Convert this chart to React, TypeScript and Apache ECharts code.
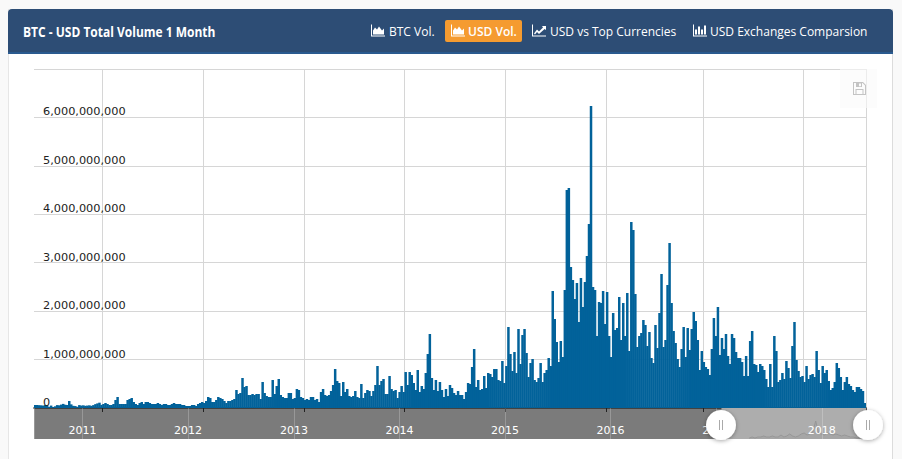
import React, { useEffect, useRef } from "react";
import * as echarts from "echarts";

// Weekly volume in millions of USD.
const volume2010 = [62,62,58,55,50,60,60,25,50,20,35,60,55,70,85,65,62,145,75,45,40,25,60,50,55,45,50,55,45,60,80,95,110,65];
const volume2011 = [83,103,83,62,62,83,165,227,83,83,83,83,165,186,207,124,83,62,103,124,83,124,124,103,83,83,83,103,83,62,83,83,62,62,83,103,83,83,83,62,62,41,41,41,62,62,41,83,103,124];
const volume2012 = [103,145,227,207,124,124,165,227,207,186,145,103,145,145,165,186,372,289,310,620,434,454,268,268,289,268,289,289,186,537,310,248,227,227,578,289,454,599,268,227,207,207,310,310,186,207,392,372,227,207];
const volume2013a = [165,186,165,227,227,165,186,124,330,392,268,248,268,351,475,805,558,516];
const volume2013b = [248,537,330,392,248,227,248,351,227,207,496,207,310,372,351,248,351,475,867,475,558,599,289,289,661,392,351,372,207,330,454,330,743,475,743,681,516,372,785,330,454,392,723,1115,1528,620,372,578,351,537,372,227,392,248,475,413,310,268,351,268,268,186,330,516,496,847,1218,434,578,372,392,661,413,723,702,640,805,805,578,558];
const volume2015 = [971,516,867,1673,1115,764,1156,723,1631,909,1507,1631,1136,640,929,1012,578,537,620,929,537,723,785,1033,867,2416,1838,1363,950,1384,1053,2437,4502,4543,2912,2643,2251,2581,1776,2685,2086,2602,3139,3800,6236,2499,2437,1487,2189,2168,2416,1735,2395,1487,1053,1962,1611,1652,2292,1404,2168,1487,2375,1177,3841,3676,2354,1260,1487,1549,1817,1714,1280,1569,1033,929,1714,1239,1962,2767,1260,1404,2540,3407,2168,1590,1342,1012,847,1218,1673,1053,1652,1198,1631,1982,1797,1404,785,1177,1053].slice(0, 100);
const volume2017 = [950,847,805,681,1218,1858,1487,2086,1094,1446,1218,1528,1074,909,1528,1446,1156,1033,1033,950,661,1074,661,1384,1590,909,888,743,909,867,785,599,434,909,434,1487,1177,537,578,723,599,971,826,620,1280,1776,991,764,640,661,537,867,599,681,702,640,1177,785,516,867,723,785,558,372,413,537,929,826,640,372,537,640,496,454,372,330,434,434,392,351,103];
const volumeMillions = [...volume2010, ...volume2011, ...volume2012, ...volume2013a, ...volume2013b, ...volume2015, ...volume2017];

const categories = volumeMillions.map((_, i) => `W${i + 1}`);
const splitIndices = [34, 84, 134, 184, 234, 284, 332, 382];
const sliderTrace = [1,2,1,2,2,3,2,2,3,2,2,4,2,3,5,3,2,3,5,6,4,5,7,18,6,5,4,6,5,4,5,4,3,4,3,2,2,1,1,0];
const traceStart = Date.UTC(2017, 3, 25);
const DAY = 86400000;
const rangeStart = Date.UTC(2010, 6, 17);
const rangeEnd = Date.UTC(2018, 5, 3);
const selectionStart = Date.UTC(2017, 0, 19);

const title = "BTC - USD Total Volume 1 Month";
const buttons = ["BTC Vol.", "USD Vol.", "USD vs Top Currencies", "USD Exchanges Comparsion"];

const BLUE = "#02629a";
const HEADER = "#2d4d75";

echarts.graphic.registerShape("iconArea", echarts.graphic.extendPath("M0 0V12H14V11H1V0Z M2 10V6L4 3L6 5L8 2L11 6L13 4V10Z", {}));
echarts.graphic.registerShape("iconLine", echarts.graphic.extendPath("M0 0V12H14V11H1V0Z M2 9L5 5L7 7L11 3L10 1.5H14V5.5L12.6 4.4L7 9.4L5 7.4L3 10Z", {}));
echarts.graphic.registerShape("iconBar", echarts.graphic.extendPath("M0 0V12H14V11H1V0Z M2 5H4V10H2Z M5 2H7V10H5Z M8 5H10V10H8Z M11 1H13V10H11Z", {}));
echarts.graphic.registerShape("iconSave", echarts.graphic.extendPath("M0 0H10L13 3V13H0Z M1 1V12H12V3.5L9.5 1H9V5H3V1Z M6 1.5V4.2H8V1.5Z M2.5 7H10.5V12H9.5V8H3.5V12H2.5Z", {}));

const headerText = (text: string, x: number, bold = false) => ({
  type: "text",
  x,
  y: 31,
  z: 20,
  style: { text, fill: "#fff", font: `${bold ? "600 " : ""}12px "Open Sans"`, verticalAlign: "middle", align: "left" },
});
const icon = (type: string, x: number) => ({ type, x, y: 24.5, z: 20, style: { fill: "#fff" } });
const handle = (cx: number) => ({
  type: "group",
  z: 30,
  children: [
    { type: "circle", z: 30, shape: { cx, cy: 425, r: 15 }, style: { fill: "#fff", shadowBlur: 4, shadowColor: "rgba(0,0,0,0.35)", shadowOffsetY: 1 } },
    { type: "line", z: 31, shape: { x1: cx - 1.5, y1: 420, x2: cx - 1.5, y2: 430 }, style: { stroke: "#aaa", lineWidth: 1 } },
    { type: "line", z: 31, shape: { x1: cx + 1.5, y1: 420, x2: cx + 1.5, y2: 430 }, style: { stroke: "#aaa", lineWidth: 1 } },
  ],
});

export default function App() {
  const ref = useRef<HTMLDivElement>(null);
  useEffect(() => {
    const chart = echarts.init(ref.current!, undefined, { renderer: "svg" });
    const hitsSplit = (i: number) => splitIndices.includes(i);
    chart.setOption({
      animation: false,
      backgroundColor: "transparent",
      grid: [
        { left: 34, top: 69, width: 832, height: 339, outerBoundsMode: "none" },
        { left: 34, top: 408, width: 832, height: 31, show: true, backgroundColor: "#7b7b7b", borderWidth: 0, outerBoundsMode: "none" },
      ],
      xAxis: [
        {
          type: "category",
          gridIndex: 0,
          data: categories,
          axisLine: { lineStyle: { color: "#111", width: 1.5 } },
          axisTick: { show: true, length: 4, interval: hitsSplit, lineStyle: { color: "#222" } },
          axisLabel: { show: false },
          splitLine: { show: true, interval: hitsSplit, lineStyle: { color: "#d6d6d6" } },
        },
        {
          type: "time",
          gridIndex: 1,
          min: rangeStart,
          max: rangeEnd,
          z: 5,
          splitNumber: 8,
          minInterval: 365 * DAY,
          axisLine: { show: false },
          axisTick: { show: false },
          axisLabel: {
            inside: true,
            margin: 3,
            color: "#fff",
            fontFamily: "DejaVu Sans",
            fontSize: 11,
            hideOverlap: false,
            formatter: (v: number) => {
              const d = new Date(v);
              return d.getUTCMonth() === 0 && d.getUTCDate() <= 2 ? String(d.getUTCFullYear()) : "";
            },
          },
          splitLine: { show: true, lineStyle: { color: "rgba(255,255,255,0.22)" } },
        },
      ],
      yAxis: [
        {
          type: "value",
          gridIndex: 0,
          min: 0,
          max: 7000000000,
          interval: 1000000000,
          axisLine: { show: false },
          axisTick: { show: false },
          axisLabel: { show: false },
          splitLine: { show: true, lineStyle: { color: "#d6d6d6" } },
        },
        {
          type: "value",
          gridIndex: 0,
          position: "left",
          min: 0,
          max: 7000000000,
          interval: 1000000000,
          z: 6,
          axisLine: { show: false },
          axisTick: { show: false },
          splitLine: { show: false },
          axisLabel: {
            inside: true,
            margin: 9,
            align: "left",
            verticalAlign: "bottom",
            color: "#222",
            fontFamily: "DejaVu Sans",
            fontSize: 11.3,
            lineHeight: 11,
            showMaxLabel: false,
            formatter: (v: number) => (v >= 7000000000 ? "" : v.toLocaleString("en-US")),
          },
        },
        { type: "value", gridIndex: 1, min: 0, max: 31, show: false },
      ],
      series: [
        {
          type: "bar",
          name: "USD Volume",
          xAxisIndex: 0,
          yAxisIndex: 0,
          barWidth: 2.5,
          itemStyle: { color: BLUE },
          data: volumeMillions.map((v) => v * 1000000),
        },
        {
          type: "line",
          xAxisIndex: 1,
          yAxisIndex: 2,
          symbol: "none",
          lineStyle: { color: "#979797", width: 1 },
          areaStyle: { color: "#a3a3a3" },
          data: sliderTrace.map((v, i) => [traceStart + i * 10 * DAY, v]),
          markArea: {
            silent: true,
            itemStyle: { color: "#adadad" },
            data: [[{ xAxis: selectionStart }, { xAxis: rangeEnd }]],
          },
        },
      ],
      graphic: [
        { type: "rect", z: 10, shape: { x: 8, y: 9, width: 885, height: 43, r: [4, 4, 0, 0] }, style: { fill: HEADER } },
        { type: "rect", z: 10, shape: { x: 8, y: 52, width: 885, height: 2 }, style: { fill: "#2a5a8f" } },
        {
          type: "text",
          x: 23,
          y: 31,
          z: 20,
          scaleX: 0.8,
          style: { text: title, fill: "#fff", font: 'bold 15px "Open Sans"', verticalAlign: "middle", align: "left" },
        },
        { type: "rect", z: 15, shape: { x: 445, y: 20, width: 77, height: 22, r: 2 }, style: { fill: "#f59b30" } },
        icon("iconArea", 371),
        headerText(buttons[0], 389),
        icon("iconArea", 451),
        headerText(buttons[1], 468, true),
        icon("iconLine", 532),
        headerText(buttons[2], 550),
        icon("iconBar", 693),
        headerText(buttons[3], 710),
        { type: "rect", z: 8, shape: { x: 840, y: 69, width: 37, height: 39 }, style: { fill: "rgba(250,250,250,0.6)" } },
        { type: "iconSave", x: 853, y: 82, z: 9, style: { fill: "#c4c4c4" } },
        handle(721),
        handle(868),
      ],
    });
    return () => chart.dispose();
  }, []);
  return (
    <div style={{ position: "fixed", left: 0, top: 0, width: 902, height: 459, background: "#f9f9f9", overflow: "hidden" }}>
      <div style={{ position: "absolute", left: 8, top: 9, width: 885, height: 460, background: "#fff", borderRight: "1px solid #dcdcdc", borderLeft: "1px solid #e6e6e6", boxSizing: "border-box" }} />
      <div ref={ref} style={{ position: "absolute", left: 0, top: 0, width: 902, height: 459 }} />
    </div>
  );
}
